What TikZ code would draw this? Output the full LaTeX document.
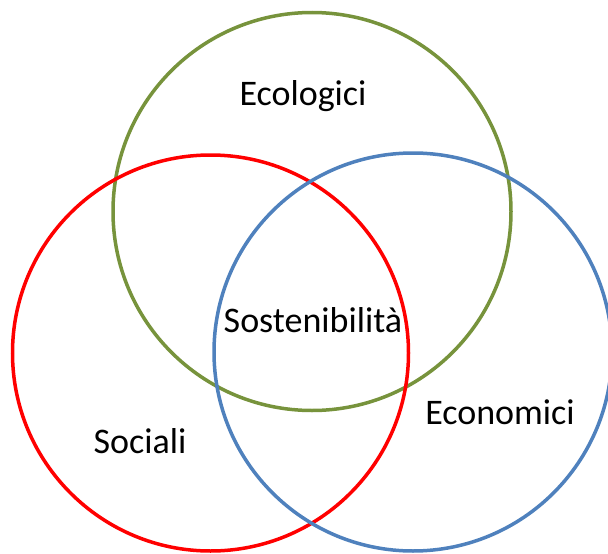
\documentclass[tikz,border=0pt]{standalone}
\usepackage{fontspec}
\setmainfont{Carlito}
\definecolor{ecogreen}{RGB}{119,147,60}
\definecolor{socred}{RGB}{255,0,0}
\definecolor{econblue}{RGB}{79,129,189}
\begin{document}
\begin{tikzpicture}[x=1pt,y=-1pt,
  ring/.style={line width=3.5pt},
  lbl/.style={font=\fontsize{36}{40}\selectfont, anchor=base, inner sep=0pt}]
\useasboundingbox (0,0) rectangle (608,554);
\draw[ring, ecogreen] (312,211.5) circle[radius=199];
\draw[ring, socred] (210.5,353) circle[radius=198];
\draw[ring, econblue] (413,352) circle[radius=199];
\node[lbl] (eco) at (303,105) {Ecologici};
\node[lbl] (sos) at (313,332) {Sostenibilità};
\node[lbl] (soc) at (140,453) {Sociali};
\node[lbl] (econ) at (500,424) {Economici};
\end{tikzpicture}
\end{document}
